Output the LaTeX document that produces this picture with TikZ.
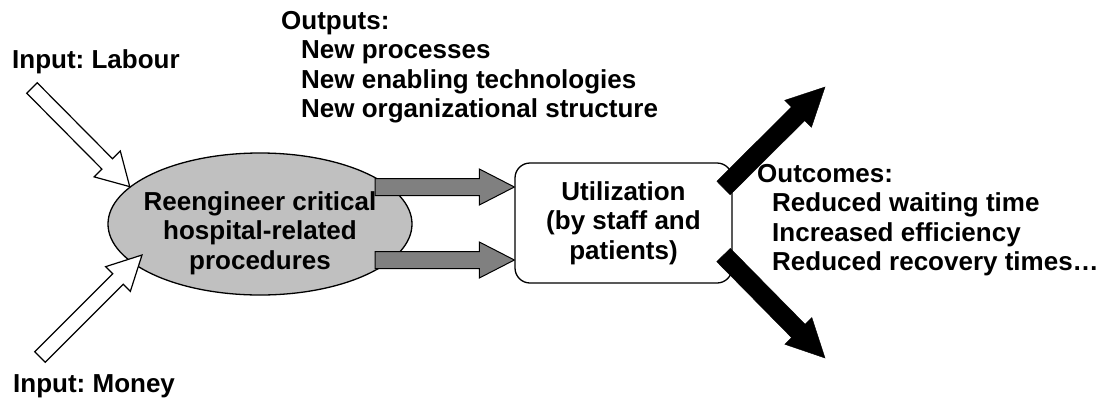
\documentclass[tikz,border=0pt]{standalone}
\usepackage{fontspec}
\setmainfont{Liberation Sans}
\frenchspacing
\usetikzlibrary{calc,shapes.geometric}

\definecolor{procgray}{RGB}{192,192,192}
\definecolor{flowgray}{RGB}{128,128,128}

% block arrow: style, tail, tip, half shaft, half head, head length
\newcommand{\blockarrow}[6]{%
  \coordinate (ba-base) at ($#3!#6!#2$);
  \draw[#1] ($#2!#4!90:#3$) -- ($(ba-base)!#4!90:#3$) -- ($(ba-base)!#5!90:#3$) -- #3
    -- ($(ba-base)!#5!-90:#3$) -- ($(ba-base)!#4!-90:#3$) -- ($#2!#4!-90:#3$) -- cycle;
}

\begin{document}
\begin{tikzpicture}[x=1pt, y=-1pt,
        every node/.style={font=\bfseries\fontsize{26}{29.5}\selectfont, inner sep=0pt},
        procshape/.style={ellipse, draw, line width=1.3pt, fill=procgray, minimum width=304pt, minimum height=142pt},
        utilbox/.style={draw, line width=1.3pt, rounded corners=15pt, minimum width=217pt, minimum height=120pt, align=center},
        inflow/.style={draw, line width=1.2pt, fill=white},
        outflow/.style={draw, line width=1pt, fill=flowgray},
        outcome/.style={fill=black}
    ]
        \useasboundingbox (0,0) rectangle (1115,405);

        \node[procshape] (proc) at (260,224) {};
        \node[align=center] (proctext) at ([yshift=-9pt]proc.center) {Reengineer critical\\hospital-related\\procedures};
        \node[utilbox] (util) at (623.5,223) {Utilization\\(by staff and\\patients)};

        \node[anchor=base west] (labour) at (12,68) {Input: Labour};
        \node[anchor=base west] (money)  at (13,392) {Input: Money};
        \node[anchor=north west, align=left] (outputs) at (281,11) {Outputs:\\\hspace*{20pt}New processes\\\hspace*{20pt}New enabling technologies\\\hspace*{20pt}New organizational structure};
        \node[anchor=north west, align=left] (outcomes) at (757,164) {Outcomes:\\\hspace*{15pt}Reduced waiting time\\\hspace*{15pt}Increased efficiency\\\hspace*{15pt}Reduced recovery times…};

        \coordinate (labourtail) at (32,88);
        \coordinate (moneytail)  at (40,357);
        \coordinate (moneytip)   at ($(proc.center)+(-118,31)$);
        \coordinate (uptip)      at (825,87);
        \coordinate (downtip)    at (825,358);

        % inputs
        \blockarrow{inflow}{(labourtail)}{(proc.164)}{7.4pt}{18.4pt}{32pt}
        \blockarrow{inflow}{(moneytail)}{(moneytip)}{7.4pt}{17.5pt}{34pt}

        % outputs
        \coordinate (outtail1) at ($(proc.center)+(115,-37)$);
        \coordinate (outtail2) at ($(proc.center)+(115,36)$);
        \blockarrow{outflow}{(outtail1)}{($(util.west)+(0,-36)$)}{8.5pt}{18pt}{35pt}
        \blockarrow{outflow}{(outtail2)}{($(util.west)+(0,37)$)}{8.5pt}{18pt}{35pt}

        % outcomes
        \coordinate (uptail)   at ($(util.center)+(100,-35)$);
        \coordinate (downtail) at ($(util.center)+(100,32)$);
        \blockarrow{outcome}{(uptail)}{(uptip)}{9.5pt}{19pt}{38pt}
        \blockarrow{outcome}{(downtail)}{(downtip)}{9.5pt}{19pt}{38pt}
    \end{tikzpicture}
\end{document}
